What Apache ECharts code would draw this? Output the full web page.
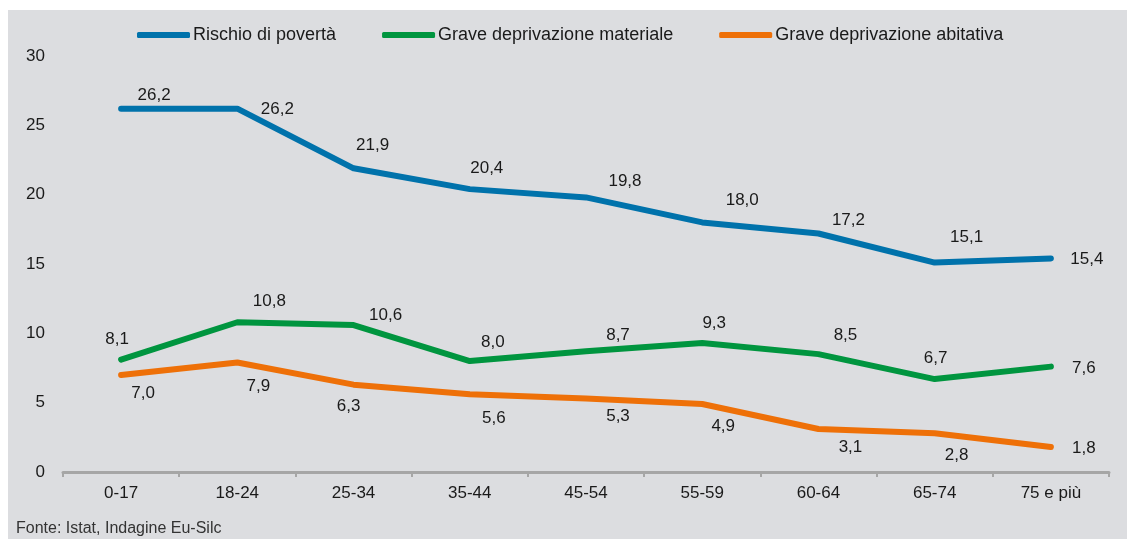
<!DOCTYPE html>
<html>
<head>
<meta charset="utf-8">
<script src="https://cdn.jsdelivr.net/npm/echarts@6/dist/echarts.min.js"></script>
<style>
    html, body { margin: 0; padding: 0; background: #ffffff; }
    #main { width: 1127px; height: 539px; }
</style>
</head>
<body>
<div id="main"></div>
<script>
var categories = ['0-17', '18-24', '25-34', '35-44', '45-54', '55-59', '60-64', '65-74', '75 e più'];
var rischio = [26.2, 26.2, 21.9, 20.4, 19.8, 18.0, 17.2, 15.1, 15.4];
var materiale = [8.1, 10.8, 10.6, 8.0, 8.7, 9.3, 8.5, 6.7, 7.6];
var abitativa = [7.0, 7.9, 6.3, 5.6, 5.3, 4.9, 3.1, 2.8, 1.8];
var yTicks = [0, 5, 10, 15, 20, 25, 30];

// label placement as in the original (offset from the point, px)
var rischioOffsets = [[33, -13], [40, 1], [19, -23], [17, -21], [39, -16], [40, -22], [30, -13], [32, -25], [36, 1]];
var materialeOffsets = [[-4, -20], [32, -21], [32, -10], [23, -19], [32, -16], [12, -20], [27, -19], [1, -21], [33, 2]];
var abitativaOffsets = [[22, 18], [21, 24], [-5, 22], [24, 24], [32, 18], [21, 22], [32, 18], [22, 22], [33, 1]];

var font = "'Liberation Sans', Arial, sans-serif";

var withLabels = function (values, offsets) {
    return values.map(function (v, i) {
        return { value: v, label: { offset: offsets[i] } };
    });
};

var makeSeries = function (name, values, offsets, color) {
    return {
        name: name,
        type: 'line',
        data: withLabels(values, offsets),
        symbol: 'circle',
        symbolSize: 1,
        showSymbol: true,
        itemStyle: { color: color },
        lineStyle: { color: color, width: 6, cap: 'round', join: 'round' },
        label: {
            show: true,
            position: 'inside',
            color: '#1a1a1a',
            fontSize: 17,
            fontFamily: font,
            formatter: function (p) {
                return p.value.toFixed(1).replace('.', ',');
            }
        },
        emphasis: { disabled: true },
        animation: false
    };
};

var option = {
    backgroundColor: '#ffffff',
    graphic: [
        {
            type: 'rect',
            z: -10,
            shape: { x: 8, y: 10, width: 1119, height: 529 },
            style: { fill: '#dcdde0' }
        },
        {
            type: 'text',
            left: 16,
            top: 521,
            style: {
                text: 'Fonte: Istat, Indagine Eu-Silc',
                fill: '#333333',
                font: "16px 'Liberation Sans Narrow', 'Liberation Sans', Arial, sans-serif"
            }
        }
    ],
    legend: {
        left: 132,
        top: 21,
        itemWidth: 53,
        itemHeight: 6,
        itemGap: 46,
        icon: 'roundRect',
        textStyle: { color: '#1a1a1a', fontSize: 18, fontFamily: font, padding: [0, 0, 0, -2] },
        data: ['Rischio di povertà', 'Grave deprivazione materiale', 'Grave deprivazione abitativa']
    },
    grid: { left: 63, right: 18, top: 56, bottom: 67 },
    xAxis: {
        type: 'category',
        data: categories,
        boundaryGap: true,
        axisLine: { lineStyle: { color: '#a6a6a6', width: 3 } },
        axisTick: { show: true, length: 5, lineStyle: { color: '#a6a6a6', width: 2 } },
        axisLabel: { color: '#1a1a1a', fontSize: 17, fontFamily: font, margin: 13 }
    },
    yAxis: {
        type: 'value',
        min: yTicks[0],
        max: yTicks[yTicks.length - 1],
        interval: 5,
        axisLine: { show: false },
        axisTick: { show: false },
        splitLine: { show: false },
        axisLabel: { color: '#1a1a1a', fontSize: 17, fontFamily: font, margin: 18 }
    },
    series: [
        makeSeries('Rischio di povertà', rischio, rischioOffsets, '#0072ab'),
        makeSeries('Grave deprivazione materiale', materiale, materialeOffsets, '#00953f'),
        makeSeries('Grave deprivazione abitativa', abitativa, abitativaOffsets, '#ee7008')
    ]
};

var myChart = echarts.init(document.getElementById('main'));
myChart.setOption(option);
</script>
</body>
</html>
